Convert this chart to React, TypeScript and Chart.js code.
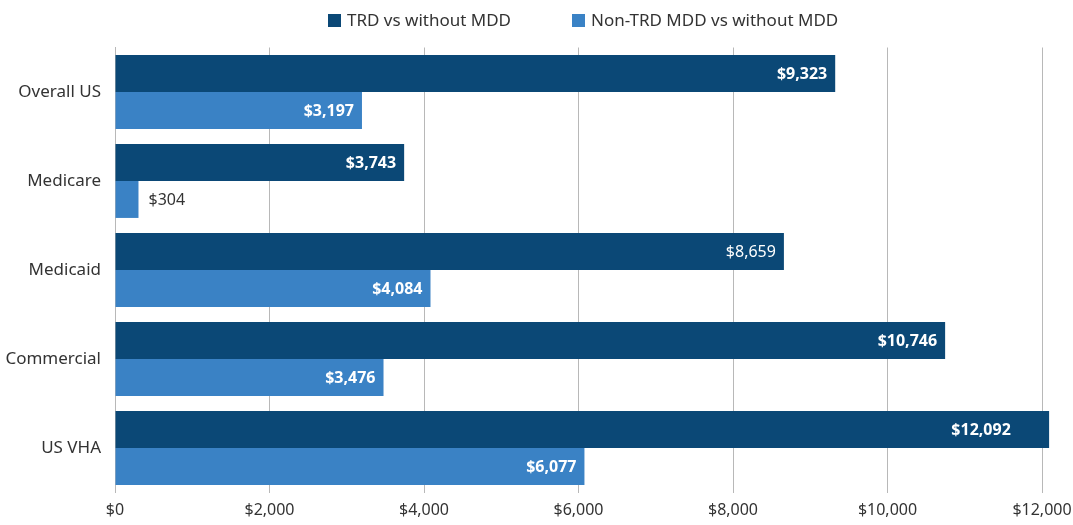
import React, { useEffect, useRef } from "react";
import { Chart, registerables } from "chart.js";

Chart.register(...registerables);

const categories = ["Overall US", "Medicare", "Medicaid", "Commercial", "US VHA"];
const seriesNames = ["TRD vs without MDD", "Non-TRD MDD vs without MDD"];
const trdValues = [9323, 3743, 8659, 10746, 12092];
const nonTrdValues = [3197, 304, 4084, 3476, 6077];
const xTicks = [0, 2000, 4000, 6000, 8000, 10000, 12000];

const DARK = "#0b4876";
const LIGHT = "#3a82c5";
const FONT = "'Noto Sans', sans-serif";

const fmt = (v: number) => "$" + v.toLocaleString("en-US");

const labelPlugin = {
  id: "barLabels",
  afterDatasetsDraw(chart: any) {
    const ctx = chart.ctx;
    const xs = chart.scales.x;
    const limit = xs.getPixelForValue(11700);
    ctx.save();
    chart.data.datasets.forEach((ds: any, di: number) => {
      const meta = chart.getDatasetMeta(di);
      meta.data.forEach((bar: any, i: number) => {
        const v = ds.data[i];
        const text = fmt(v);
        const inside = v > 1000;
        const bold = !(di === 0 && i === 2) && inside;
        ctx.font = `${bold ? "bold " : ""}16px ${FONT}`;
        ctx.textBaseline = "middle";
        if (inside) {
          ctx.fillStyle = "#ffffff";
          ctx.textAlign = "right";
          const end = v > xs.max ? limit : bar.x;
          ctx.fillText(text, end - 8, bar.y + 1);
        } else {
          ctx.fillStyle = "#333333";
          ctx.textAlign = "left";
          ctx.fillText(text, bar.x + 10, bar.y + 1);
        }
      });
    });
    ctx.restore();
  },
};

const legendPlugin = {
  id: "customLegend",
  afterDraw(chart: any) {
    const ctx = chart.ctx;
    ctx.save();
    ctx.font = `17px ${FONT}`;
    ctx.textBaseline = "middle";
    ctx.textAlign = "left";
    const starts = [328, 572];
    chart.data.datasets.forEach((ds: any, di: number) => {
      const x = starts[di];
      ctx.fillStyle = ds.backgroundColor;
      ctx.fillRect(x, 14, 13, 13);
      ctx.fillStyle = "#333333";
      ctx.fillText(ds.label, x + 19, 21);
    });
    ctx.restore();
  },
};

export default function App() {
  const ref = useRef<HTMLCanvasElement>(null);
  useEffect(() => {
    document.body.style.margin = "0";
    const chart = new Chart(ref.current!, {
      type: "bar",
      data: {
        labels: categories,
        datasets: [
          { label: seriesNames[0], data: trdValues, backgroundColor: DARK, clip: false as any },
          { label: seriesNames[1], data: nonTrdValues, backgroundColor: LIGHT, clip: false as any },
        ],
      },
      options: {
        indexAxis: "y",
        animation: false,
        responsive: false,
        layout: { padding: { top: 47.5, right: 31, bottom: 6.5, left: 0 } },
        datasets: { bar: { categoryPercentage: 0.83, barPercentage: 1 } },
        plugins: { legend: { display: false }, tooltip: { enabled: false } },
        scales: {
          x: {
            min: 0,
            max: 12000,
            afterBuildTicks: (s: any) => {
              s.ticks = xTicks.map((v) => ({ value: v }));
            },
            afterFit: (s: any) => {
              s.height = 26;
              s.paddingRight = 0;
              s.paddingLeft = 0;
            },
            grid: { color: "#b8b8b8", drawTicks: false, lineWidth: 1 },
            border: { display: false },
            ticks: {
              padding: 8,
              color: "#333333",
              font: { family: FONT, size: 16 },
              callback: (v: any) => fmt(Number(v)),
            },
          },
          y: {
            afterFit: (s: any) => {
              s.width = 115;
            },
            grid: { display: false, drawTicks: false },
            border: { display: true, color: "#b8b8b8" },
            ticks: {
              padding: 14,
              color: "#333333",
              font: { family: FONT, size: 17 },
            },
          },
        },
      },
      plugins: [labelPlugin, legendPlugin],
    });
    return () => chart.destroy();
  }, []);
  return <canvas ref={ref} width={1073} height={525} />;
}
